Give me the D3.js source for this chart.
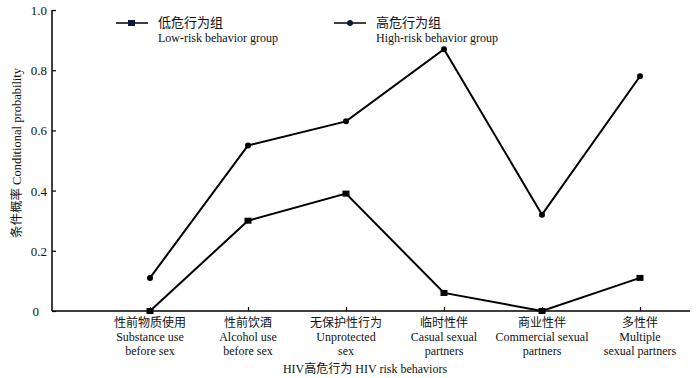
<!DOCTYPE html>
<html>
<head>
<meta charset="utf-8">
<script src="https://cdn.jsdelivr.net/npm/d3@7"></script>
<style>
  body { margin: 0; background: #fff; }
  text { font-family: "Liberation Serif", "Noto Sans CJK SC", serif; fill: #111; }
</style>
</head>
<body>
<svg id="chart" width="700" height="378"></svg>
<script>
var categories = [
  ["性前物质使用", "Substance use", "before sex"],
  ["性前饮酒", "Alcohol use", "before sex"],
  ["无保护性行为", "Unprotected", "sex"],
  ["临时性伴", "Casual sexual", "partners"],
  ["商业性伴", "Commercial sexual", "partners"],
  ["多性伴", "Multiple", "sexual partners"]
];
var lowRisk = [0, 0.30, 0.39, 0.06, 0, 0.11];
var highRisk = [0.11, 0.55, 0.63, 0.87, 0.32, 0.78];
var yTicks = [0, 0.2, 0.4, 0.6, 0.8, 1.0];
var yTickLabels = ["0", "0.2", "0.4", "0.6", "0.8", "1.0"];

var svg = d3.select("#chart"),
    plotLeft = 52, plotRight = 690, plotTop = 10, plotBottom = 311;

var x = d3.scalePoint()
    .domain(d3.range(categories.length))
    .range([150, 640]);

var y = d3.scaleLinear()
    .domain([0, 1])
    .range([plotBottom, plotTop]);

// y axis, ticks pointing inward
var yAxis = svg.append("g")
    .attr("transform", "translate(" + plotLeft + ",0)")
    .call(d3.axisRight(y).tickValues(yTicks).tickSize(4).tickFormat(""));
yAxis.select(".domain").attr("d", "M0," + plotTop + "V" + plotBottom).attr("stroke-width", 1.5);
yAxis.selectAll(".tick line").attr("stroke-width", 1.2);

svg.append("g").selectAll("text")
    .data(yTicks)
    .enter()
    .append("text")
    .attr("x", function (d) {return d === 0 ? 39 : 47;})
    .attr("y", function (d) {return y(d) + 5;})
    .attr("text-anchor", "end")
    .style("font-size", "13px")
    .text(function (d, i) {return yTickLabels[i];});

// x axis
var xAxis = svg.append("g")
    .attr("transform", "translate(0," + plotBottom + ")")
    .call(d3.axisTop(x).tickSize(4).tickFormat(""));
xAxis.select(".domain").attr("d", "M" + plotLeft + ",0H" + plotRight).attr("stroke-width", 1.5);
xAxis.selectAll(".tick line").attr("stroke-width", 1.2);

var catLabel = svg.append("g").selectAll("text")
    .data(categories)
    .enter()
    .append("text")
    .attr("text-anchor", "middle")
    .style("font-size", "12px");
[0, 1, 2].forEach(function (k) {
  catLabel.append("tspan")
      .attr("x", function (d, i) {return x(i);})
      .attr("y", 327 + k * 13.8)
      .text(function (d) {return d[k];});
});

svg.append("text")
    .attr("x", 365)
    .attr("y", 373)
    .attr("text-anchor", "middle")
    .style("font-size", "12px")
    .text("HIV高危行为 HIV risk behaviors");

svg.append("text")
    .attr("transform", "translate(21,153) rotate(-90)")
    .attr("text-anchor", "middle")
    .style("font-size", "12.5px")
    .text("条件概率 Conditional probability");

// lines
var line = d3.line()
    .x(function (d, i) {return x(i);})
    .y(function (d) {return y(d);});

svg.append("path")
    .datum(highRisk)
    .attr("d", line)
    .attr("fill", "none")
    .attr("stroke", "#000")
    .attr("stroke-width", 2);

svg.append("path")
    .datum(lowRisk)
    .attr("d", line)
    .attr("fill", "none")
    .attr("stroke", "#000")
    .attr("stroke-width", 2);

svg.append("g").selectAll("circle")
    .data(highRisk)
    .enter()
    .append("circle")
    .attr("cx", function (d, i) {return x(i);})
    .attr("cy", function (d) {return y(d);})
    .attr("r", 3)
    .attr("fill", "#000");

svg.append("g").selectAll("rect")
    .data(lowRisk)
    .enter()
    .append("rect")
    .attr("x", function (d, i) {return x(i) - 3.5;})
    .attr("y", function (d) {return y(d) - 3;})
    .attr("width", 7)
    .attr("height", 6)
    .attr("fill", "#000");

// legend
var legend = [
  {x: 116, zh: "低危行为组", en: "Low-risk behavior group", mark: "rect"},
  {x: 334, zh: "高危行为组", en: "High-risk behavior group", mark: "circle"}
];
legend.forEach(function (d) {
  var g = svg.append("g").attr("transform", "translate(" + d.x + ",23)");
  g.append("line").attr("x1", 0).attr("x2", 32).attr("stroke", "#000").attr("stroke-width", 1.5);
  if (d.mark === "rect") {
    g.append("rect").attr("x", 12).attr("y", -3).attr("width", 7).attr("height", 6).attr("fill", "#0a1a3a");
  } else {
    g.append("circle").attr("cx", 16).attr("cy", 0).attr("r", 3).attr("fill", "#0a1a3a");
  }
  g.append("text").attr("x", 42).attr("y", 4).style("font-size", "13px").text(d.zh);
  g.append("text").attr("x", 42).attr("y", 19).style("font-size", "12px").text(d.en);
});
</script>
</body>
</html>
